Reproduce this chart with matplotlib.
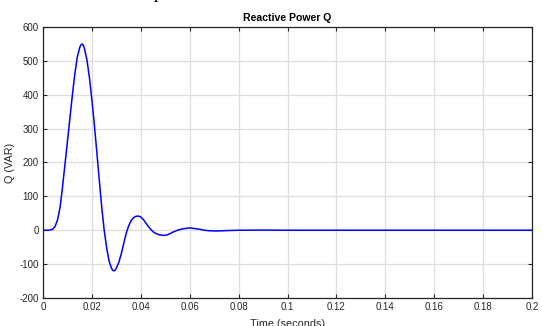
import numpy as np
import matplotlib.pyplot as plt

# valores (tiempo en s, Q en VAR)
t = [0.000, 0.001, 0.002, 0.003, 0.004, 0.005, 0.006, 0.007, 0.008, 0.009,
     0.010, 0.011, 0.012, 0.013, 0.014, 0.015, 0.0155, 0.016, 0.0165, 0.017,
     0.018, 0.019, 0.020, 0.021, 0.022, 0.023, 0.024, 0.025, 0.026, 0.027,
     0.028, 0.0285, 0.029, 0.0295, 0.030, 0.031, 0.032, 0.033, 0.034, 0.035,
     0.036, 0.037, 0.038, 0.039, 0.040, 0.041, 0.042, 0.043, 0.044, 0.045,
     0.046, 0.047, 0.048, 0.049, 0.050, 0.051, 0.052, 0.053, 0.054, 0.055,
     0.056, 0.057, 0.058, 0.059, 0.060, 0.061, 0.062, 0.063, 0.064, 0.066,
     0.068, 0.070, 0.072, 0.075, 0.080, 0.090, 0.100, 0.120, 0.150, 0.200]
q = [0, 0, 0, 1, 3, 12, 32, 68, 128, 195,
     262, 330, 398, 460, 510, 539, 547, 550, 546, 535,
     502, 450, 385, 312, 232, 150, 70, 2, -50, -90,
     -112, -118, -120, -118, -112, -95, -70, -40, -10, 12,
     28, 37, 41, 42, 39, 32, 22, 12, 3, -4,
     -9, -12, -14, -15, -15, -13, -10, -6, -3, 0,
     2, 4, 5, 6, 7, 6, 5, 4, 3, 0,
     -1.5, -2, -2, -1, 0, 0.5, 0, 0, 0, 0]

plt.rcParams['font.family'] = ['Liberation Sans', 'DejaVu Sans']
plt.rcParams['axes.unicode_minus'] = False
txt = '#262626'

fig = plt.figure(figsize=(5.42, 3.26), dpi=100)
ax = fig.add_axes([0.0793, 0.0859, 0.9023, 0.8313])

ax.plot(t, q, color=(0, 0, 1), lw=1.1)

ax.set_xlim(0, 0.2)
ax.set_ylim(-200, 600)
ax.set_xticks(np.arange(0, 0.201, 0.02))
ax.set_xticklabels(['0', '0.02', '0.04', '0.06', '0.08', '0.1', '0.12',
                    '0.14', '0.16', '0.18', '0.2'])
ax.set_yticks(np.arange(-200, 601, 100))
ax.grid(True, color='#dedede', lw=0.9)
ax.set_axisbelow(True)
ax.tick_params(direction='in', length=3, width=0.8, top=True, right=True,
               labelsize=6.9, colors=txt, pad=3)
for s in ax.spines.values():
    s.set_color(txt)
    s.set_linewidth(0.9)

ax.set_title('Reactive Power Q', fontsize=7.6, fontweight='bold', color='black', pad=4)
ax.set_ylabel('Q (VAR)', fontsize=7.8, color=txt)
ax.yaxis.set_label_coords(-0.058, 0.5)
ax.set_xlabel('Time (seconds)', fontsize=7.8, color=txt, labelpad=5)

# resto de texto cortado arriba
fig.text(0.283, 1.006, 'p', fontsize=13, family='Liberation Serif', va='baseline')

fig.savefig('out.png', dpi=100)
